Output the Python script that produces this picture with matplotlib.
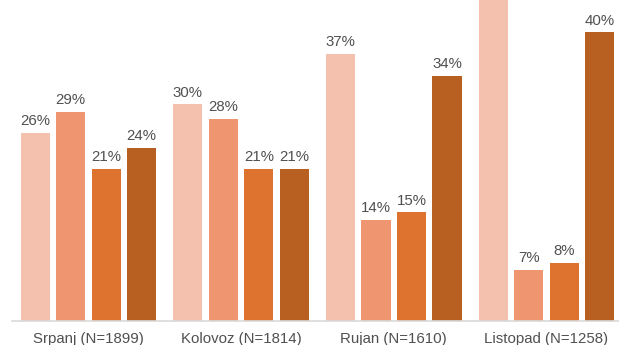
import matplotlib
matplotlib.use("Agg")
import matplotlib.pyplot as plt
import numpy as np

categories = ["Srpanj (N=1899)", "Kolovoz (N=1814)", "Rujan (N=1610)", "Listopad (N=1258)"]
series_a = [26, 30, 37, 45]
series_b = [29, 28, 14, 7]
series_c = [21, 21, 15, 8]
series_d = [24, 21, 34, 40]
colors = ["#F4C1AE", "#EF9670", "#DD732E", "#B86022"]

plt.rcParams["font.family"] = ["Liberation Sans", "DejaVu Sans"]

fig = plt.figure(figsize=(6.19, 3.45), dpi=100)
ax = fig.add_axes([12 / 619, 24.5 / 345, 607 / 619, 320.5 / 345])

x = np.arange(len(categories))
step = 0.2325
width = 0.19
all_series = [series_a, series_b, series_c, series_d]
for i, (vals, col) in enumerate(zip(all_series, colors)):
    pos = x + (i - 1.5) * step
    ax.bar(pos, vals, width=width, color=col, zorder=2)
    for xp, v in zip(pos, vals):
        ax.annotate(f"{v}%", (xp, v), xytext=(0, 3.5), textcoords="offset points",
                    ha="center", va="bottom", fontsize=10.8, color="#505050",
                    annotation_clip=True)

ax.set_xlim(-0.5, -0.5 + 607 / 152.7)
ax.set_ylim(0, 44.5)
ax.set_xticks(x)
ax.set_xticklabels(categories, fontsize=10.8, color="#505050")
ax.tick_params(axis="x", length=0, pad=8)
ax.set_yticks([])
for s in ["top", "right", "left"]:
    ax.spines[s].set_visible(False)
ax.spines["bottom"].set_color("#D9D9D9")
ax.spines["bottom"].set_linewidth(1.2)

fig.savefig("out.png", dpi=100)
